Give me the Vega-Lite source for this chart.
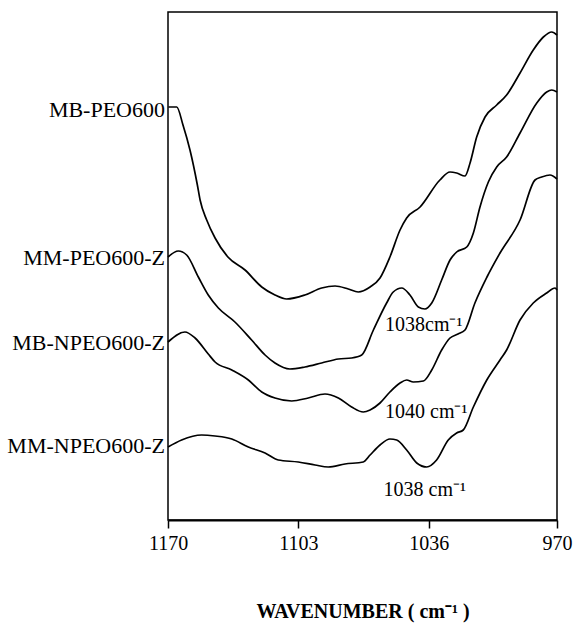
{
  "$schema": "https://vega.github.io/schema/vega-lite/v6.json",
  "autosize": {"type": "none"},
  "width": 389,
  "height": 508,
  "padding": {"left": 168, "top": 12, "right": 17, "bottom": 107},
  "background": "white",
  "config": {
    "view": {"stroke": "black", "strokeWidth": 1.5},
    "font": "'Liberation Serif', 'Times New Roman', serif"
  },
  "datasets": {
    "spectra": [
      {"sample": "MB-PEO600", "wavenumber": 1169.8, "absorbance": 413},
      {"sample": "MB-PEO600", "wavenumber": 1165.5, "absorbance": 413},
      {"sample": "MB-PEO600", "wavenumber": 1162.3, "absorbance": 395},
      {"sample": "MB-PEO600", "wavenumber": 1158.7, "absorbance": 370},
      {"sample": "MB-PEO600", "wavenumber": 1154.9, "absorbance": 335},
      {"sample": "MB-PEO600", "wavenumber": 1153.5, "absorbance": 320},
      {"sample": "MB-PEO600", "wavenumber": 1150.1, "absorbance": 300},
      {"sample": "MB-PEO600", "wavenumber": 1145.8, "absorbance": 282},
      {"sample": "MB-PEO600", "wavenumber": 1139.2, "absorbance": 263},
      {"sample": "MB-PEO600", "wavenumber": 1130.4, "absorbance": 250},
      {"sample": "MB-PEO600", "wavenumber": 1121.8, "absorbance": 233},
      {"sample": "MB-PEO600", "wavenumber": 1115.0, "absorbance": 225},
      {"sample": "MB-PEO600", "wavenumber": 1109.0, "absorbance": 221},
      {"sample": "MB-PEO600", "wavenumber": 1099.6, "absorbance": 225},
      {"sample": "MB-PEO600", "wavenumber": 1091.0, "absorbance": 232},
      {"sample": "MB-PEO600", "wavenumber": 1084.1, "absorbance": 234},
      {"sample": "MB-PEO600", "wavenumber": 1077.3, "absorbance": 231},
      {"sample": "MB-PEO600", "wavenumber": 1072.2, "absorbance": 228},
      {"sample": "MB-PEO600", "wavenumber": 1066.1, "absorbance": 233},
      {"sample": "MB-PEO600", "wavenumber": 1061.0, "absorbance": 242},
      {"sample": "MB-PEO600", "wavenumber": 1055.9, "absorbance": 263},
      {"sample": "MB-PEO600", "wavenumber": 1050.7, "absorbance": 290},
      {"sample": "MB-PEO600", "wavenumber": 1047.3, "absorbance": 302},
      {"sample": "MB-PEO600", "wavenumber": 1040.4, "absorbance": 313},
      {"sample": "MB-PEO600", "wavenumber": 1030.2, "absorbance": 340},
      {"sample": "MB-PEO600", "wavenumber": 1025.0, "absorbance": 348},
      {"sample": "MB-PEO600", "wavenumber": 1021.6, "absorbance": 347},
      {"sample": "MB-PEO600", "wavenumber": 1017.3, "absorbance": 344},
      {"sample": "MB-PEO600", "wavenumber": 1014.7, "absorbance": 357},
      {"sample": "MB-PEO600", "wavenumber": 1011.3, "absorbance": 383},
      {"sample": "MB-PEO600", "wavenumber": 1007.0, "absorbance": 403},
      {"sample": "MB-PEO600", "wavenumber": 1001.0, "absorbance": 415},
      {"sample": "MB-PEO600", "wavenumber": 995.9, "absorbance": 425},
      {"sample": "MB-PEO600", "wavenumber": 989.0, "absorbance": 447},
      {"sample": "MB-PEO600", "wavenumber": 982.2, "absorbance": 470},
      {"sample": "MB-PEO600", "wavenumber": 977.0, "absorbance": 483},
      {"sample": "MB-PEO600", "wavenumber": 972.7, "absorbance": 488},
      {"sample": "MB-PEO600", "wavenumber": 970.0, "absorbance": 485},

      {"sample": "MM-PEO600-Z", "wavenumber": 1170.0, "absorbance": 263},
      {"sample": "MM-PEO600-Z", "wavenumber": 1164.7, "absorbance": 269},
      {"sample": "MM-PEO600-Z", "wavenumber": 1160.4, "absorbance": 265},
      {"sample": "MM-PEO600-Z", "wavenumber": 1154.4, "absorbance": 243},
      {"sample": "MM-PEO600-Z", "wavenumber": 1149.3, "absorbance": 225},
      {"sample": "MM-PEO600-Z", "wavenumber": 1144.1, "absorbance": 212},
      {"sample": "MM-PEO600-Z", "wavenumber": 1135.6, "absorbance": 198},
      {"sample": "MM-PEO600-Z", "wavenumber": 1127.0, "absorbance": 180},
      {"sample": "MM-PEO600-Z", "wavenumber": 1120.1, "absorbance": 165},
      {"sample": "MM-PEO600-Z", "wavenumber": 1115.0, "absorbance": 157},
      {"sample": "MM-PEO600-Z", "wavenumber": 1107.3, "absorbance": 151},
      {"sample": "MM-PEO600-Z", "wavenumber": 1099.6, "absorbance": 153},
      {"sample": "MM-PEO600-Z", "wavenumber": 1091.0, "absorbance": 157},
      {"sample": "MM-PEO600-Z", "wavenumber": 1082.4, "absorbance": 161},
      {"sample": "MM-PEO600-Z", "wavenumber": 1075.6, "absorbance": 162},
      {"sample": "MM-PEO600-Z", "wavenumber": 1070.4, "absorbance": 165},
      {"sample": "MM-PEO600-Z", "wavenumber": 1064.4, "absorbance": 190},
      {"sample": "MM-PEO600-Z", "wavenumber": 1057.6, "absorbance": 217},
      {"sample": "MM-PEO600-Z", "wavenumber": 1054.2, "absorbance": 228},
      {"sample": "MM-PEO600-Z", "wavenumber": 1049.8, "absorbance": 232},
      {"sample": "MM-PEO600-Z", "wavenumber": 1045.6, "absorbance": 225},
      {"sample": "MM-PEO600-Z", "wavenumber": 1041.3, "absorbance": 213},
      {"sample": "MM-PEO600-Z", "wavenumber": 1037.9, "absorbance": 211},
      {"sample": "MM-PEO600-Z", "wavenumber": 1034.4, "absorbance": 217},
      {"sample": "MM-PEO600-Z", "wavenumber": 1029.3, "absorbance": 240},
      {"sample": "MM-PEO600-Z", "wavenumber": 1025.0, "absorbance": 260},
      {"sample": "MM-PEO600-Z", "wavenumber": 1021.6, "absorbance": 268},
      {"sample": "MM-PEO600-Z", "wavenumber": 1016.4, "absorbance": 273},
      {"sample": "MM-PEO600-Z", "wavenumber": 1013.0, "absorbance": 287},
      {"sample": "MM-PEO600-Z", "wavenumber": 1009.6, "absorbance": 313},
      {"sample": "MM-PEO600-Z", "wavenumber": 1005.3, "absorbance": 338},
      {"sample": "MM-PEO600-Z", "wavenumber": 1001.0, "absorbance": 353},
      {"sample": "MM-PEO600-Z", "wavenumber": 995.9, "absorbance": 363},
      {"sample": "MM-PEO600-Z", "wavenumber": 989.0, "absorbance": 387},
      {"sample": "MM-PEO600-Z", "wavenumber": 980.4, "absorbance": 417},
      {"sample": "MM-PEO600-Z", "wavenumber": 975.3, "absorbance": 428},
      {"sample": "MM-PEO600-Z", "wavenumber": 972.7, "absorbance": 430},
      {"sample": "MM-PEO600-Z", "wavenumber": 970.0, "absorbance": 428},

      {"sample": "MB-NPEO600-Z", "wavenumber": 1170.0, "absorbance": 178},
      {"sample": "MB-NPEO600-Z", "wavenumber": 1161.3, "absorbance": 188},
      {"sample": "MB-NPEO600-Z", "wavenumber": 1156.1, "absorbance": 182},
      {"sample": "MB-NPEO600-Z", "wavenumber": 1149.3, "absorbance": 166},
      {"sample": "MB-NPEO600-Z", "wavenumber": 1145.8, "absorbance": 158},
      {"sample": "MB-NPEO600-Z", "wavenumber": 1137.2, "absorbance": 150},
      {"sample": "MB-NPEO600-Z", "wavenumber": 1128.7, "absorbance": 140},
      {"sample": "MB-NPEO600-Z", "wavenumber": 1121.8, "absorbance": 128},
      {"sample": "MB-NPEO600-Z", "wavenumber": 1115.0, "absorbance": 122},
      {"sample": "MB-NPEO600-Z", "wavenumber": 1106.4, "absorbance": 119},
      {"sample": "MB-NPEO600-Z", "wavenumber": 1097.9, "absorbance": 122},
      {"sample": "MB-NPEO600-Z", "wavenumber": 1089.3, "absorbance": 126},
      {"sample": "MB-NPEO600-Z", "wavenumber": 1082.4, "absorbance": 122},
      {"sample": "MB-NPEO600-Z", "wavenumber": 1075.6, "absorbance": 113},
      {"sample": "MB-NPEO600-Z", "wavenumber": 1069.6, "absorbance": 108},
      {"sample": "MB-NPEO600-Z", "wavenumber": 1066.1, "absorbance": 110},
      {"sample": "MB-NPEO600-Z", "wavenumber": 1061.0, "absorbance": 117},
      {"sample": "MB-NPEO600-Z", "wavenumber": 1055.9, "absorbance": 128},
      {"sample": "MB-NPEO600-Z", "wavenumber": 1050.7, "absorbance": 137},
      {"sample": "MB-NPEO600-Z", "wavenumber": 1047.3, "absorbance": 140},
      {"sample": "MB-NPEO600-Z", "wavenumber": 1043.9, "absorbance": 138},
      {"sample": "MB-NPEO600-Z", "wavenumber": 1038.7, "absorbance": 139},
      {"sample": "MB-NPEO600-Z", "wavenumber": 1034.4, "absorbance": 150},
      {"sample": "MB-NPEO600-Z", "wavenumber": 1029.3, "absorbance": 170},
      {"sample": "MB-NPEO600-Z", "wavenumber": 1025.0, "absorbance": 182},
      {"sample": "MB-NPEO600-Z", "wavenumber": 1020.9, "absorbance": 186},
      {"sample": "MB-NPEO600-Z", "wavenumber": 1017.3, "absorbance": 190},
      {"sample": "MB-NPEO600-Z", "wavenumber": 1012.2, "absorbance": 217},
      {"sample": "MB-NPEO600-Z", "wavenumber": 1006.0, "absorbance": 243},
      {"sample": "MB-NPEO600-Z", "wavenumber": 999.3, "absorbance": 267},
      {"sample": "MB-NPEO600-Z", "wavenumber": 989.0, "absorbance": 300},
      {"sample": "MB-NPEO600-Z", "wavenumber": 981.3, "absorbance": 340},
      {"sample": "MB-NPEO600-Z", "wavenumber": 977.9, "absorbance": 343},
      {"sample": "MB-NPEO600-Z", "wavenumber": 973.6, "absorbance": 345},
      {"sample": "MB-NPEO600-Z", "wavenumber": 970.0, "absorbance": 341},

      {"sample": "MM-NPEO600-Z", "wavenumber": 1170.0, "absorbance": 73},
      {"sample": "MM-NPEO600-Z", "wavenumber": 1163.0, "absorbance": 80},
      {"sample": "MM-NPEO600-Z", "wavenumber": 1152.7, "absorbance": 85},
      {"sample": "MM-NPEO600-Z", "wavenumber": 1145.8, "absorbance": 84},
      {"sample": "MM-NPEO600-Z", "wavenumber": 1137.2, "absorbance": 81},
      {"sample": "MM-NPEO600-Z", "wavenumber": 1128.7, "absorbance": 73},
      {"sample": "MM-NPEO600-Z", "wavenumber": 1120.1, "absorbance": 67},
      {"sample": "MM-NPEO600-Z", "wavenumber": 1113.3, "absorbance": 60},
      {"sample": "MM-NPEO600-Z", "wavenumber": 1103.0, "absorbance": 58},
      {"sample": "MM-NPEO600-Z", "wavenumber": 1094.4, "absorbance": 55},
      {"sample": "MM-NPEO600-Z", "wavenumber": 1087.6, "absorbance": 53},
      {"sample": "MM-NPEO600-Z", "wavenumber": 1079.0, "absorbance": 56},
      {"sample": "MM-NPEO600-Z", "wavenumber": 1069.6, "absorbance": 58},
      {"sample": "MM-NPEO600-Z", "wavenumber": 1066.1, "absorbance": 65},
      {"sample": "MM-NPEO600-Z", "wavenumber": 1061.0, "absorbance": 75},
      {"sample": "MM-NPEO600-Z", "wavenumber": 1055.9, "absorbance": 81},
      {"sample": "MM-NPEO600-Z", "wavenumber": 1052.4, "absorbance": 80},
      {"sample": "MM-NPEO600-Z", "wavenumber": 1047.3, "absorbance": 70},
      {"sample": "MM-NPEO600-Z", "wavenumber": 1042.1, "absorbance": 57},
      {"sample": "MM-NPEO600-Z", "wavenumber": 1037.0, "absorbance": 53},
      {"sample": "MM-NPEO600-Z", "wavenumber": 1031.9, "absorbance": 60},
      {"sample": "MM-NPEO600-Z", "wavenumber": 1025.9, "absorbance": 80},
      {"sample": "MM-NPEO600-Z", "wavenumber": 1021.6, "absorbance": 87},
      {"sample": "MM-NPEO600-Z", "wavenumber": 1018.2, "absorbance": 90},
      {"sample": "MM-NPEO600-Z", "wavenumber": 1013.0, "absorbance": 113},
      {"sample": "MM-NPEO600-Z", "wavenumber": 1006.1, "absorbance": 140},
      {"sample": "MM-NPEO600-Z", "wavenumber": 999.3, "absorbance": 160},
      {"sample": "MM-NPEO600-Z", "wavenumber": 995.9, "absorbance": 170},
      {"sample": "MM-NPEO600-Z", "wavenumber": 989.0, "absorbance": 200},
      {"sample": "MM-NPEO600-Z", "wavenumber": 982.2, "absorbance": 217},
      {"sample": "MM-NPEO600-Z", "wavenumber": 975.3, "absorbance": 227},
      {"sample": "MM-NPEO600-Z", "wavenumber": 971.0, "absorbance": 232},
      {"sample": "MM-NPEO600-Z", "wavenumber": 970.0, "absorbance": 230}
    ],
    "labels": [
      {"label": "MB-PEO600", "wavenumber": 1170, "absorbance": 410},
      {"label": "MM-PEO600-Z", "wavenumber": 1170, "absorbance": 262},
      {"label": "MB-NPEO600-Z", "wavenumber": 1170, "absorbance": 177},
      {"label": "MM-NPEO600-Z", "wavenumber": 1170, "absorbance": 74}
    ],
    "notes": [
      {"note": "1038cm⁻¹", "wavenumber": 1058.4, "absorbance": 195},
      {"note": "1040 cm⁻¹", "wavenumber": 1058.4, "absorbance": 108},
      {"note": "1038 cm⁻¹", "wavenumber": 1059.2, "absorbance": 30}
    ]
  },
  "layer": [
    {
      "data": {"name": "spectra"},
      "mark": {"type": "line", "interpolate": "monotone", "color": "black", "strokeWidth": 1.7},
      "encoding": {
        "x": {
          "field": "wavenumber", "type": "quantitative",
          "scale": {"domain": [970, 1170], "reverse": true, "nice": false, "zero": false},
          "axis": {
            "values": [1170, 1103, 1036, 970], "format": "d", "grid": false,
            "domainColor": "black", "domainWidth": 2,
            "tickColor": "black", "tickSize": 8, "tickWidth": 1.5,
            "labelFont": "'Liberation Serif', 'Times New Roman', serif", "labelFontSize": 20, "labelColor": "black",
            "labelPadding": 5, "labelFlush": false, "labelOverlap": false,
            "title": "WAVENUMBER ( cm⁻¹ )", "titleFont": "'Liberation Serif', 'Times New Roman', serif",
            "titleFontSize": 20, "titleFontWeight": "bold", "titleColor": "black",
            "titlePadding": 48
          }
        },
        "y": {
          "field": "absorbance", "type": "quantitative",
          "scale": {"domain": [0, 508], "nice": false, "zero": false},
          "axis": null
        },
        "detail": {"field": "sample", "type": "nominal"}
      }
    },
    {
      "data": {"name": "labels"},
      "mark": {"type": "text", "align": "right", "baseline": "middle", "dx": -3, "fontSize": 22, "font": "'Liberation Serif', 'Times New Roman', serif", "color": "black"},
      "encoding": {
        "x": {"field": "wavenumber", "type": "quantitative"},
        "y": {"field": "absorbance", "type": "quantitative"},
        "text": {"field": "label"}
      }
    },
    {
      "data": {"name": "notes"},
      "mark": {"type": "text", "align": "left", "baseline": "middle", "fontSize": 20, "font": "'Liberation Serif', 'Times New Roman', serif", "color": "black"},
      "encoding": {
        "x": {"field": "wavenumber", "type": "quantitative"},
        "y": {"field": "absorbance", "type": "quantitative"},
        "text": {"field": "note"}
      }
    }
  ]
}
